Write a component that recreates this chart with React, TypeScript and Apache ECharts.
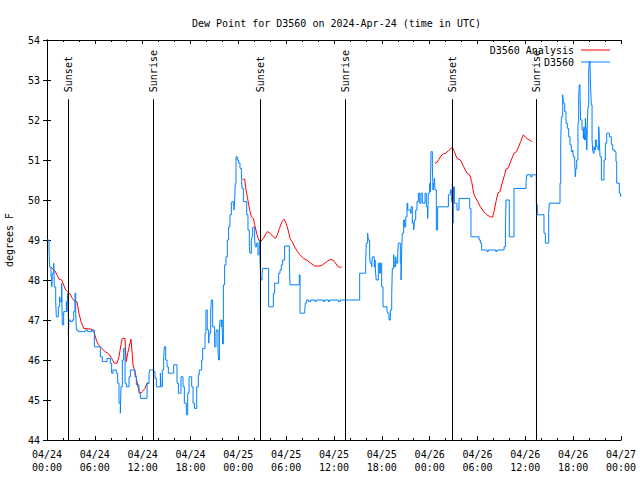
import React, { useEffect, useRef } from "react";
import * as echarts from "echarts";

// Hours since 2024-04-24 00:00 UTC
const xTickLabels = [
  "04/24\n00:00", "04/24\n06:00", "04/24\n12:00", "04/24\n18:00",
  "04/25\n00:00", "04/25\n06:00", "04/25\n12:00", "04/25\n18:00",
  "04/26\n00:00", "04/26\n06:00", "04/26\n12:00", "04/26\n18:00",
  "04/27\n00:00",
];

const sunTimes = [2.67, 13.34, 26.77, 37.43, 50.85, 61.38];
const sunLabels = ["Sunset", "Sunrise", "Sunset", "Sunrise", "Sunset", "Sunrise"];

const observed: [number, number][] = [
  [0.0, 49.0], [0.25, 48.75], [0.33, 48.32], [0.5, 48.08], [0.59, 47.83], [0.67, 48.17], [0.84, 48.42], [0.92, 47.83],
  [1.09, 47.46], [1.17, 47.08], [1.42, 47.33], [1.59, 47.58], [1.67, 47.46], [1.84, 47.92], [1.92, 46.88], [2.09, 47.21],
  [2.43, 47.46], [2.51, 47.21], [2.59, 47.67], [2.68, 46.63], [2.76, 47.0], [2.93, 46.96], [3.18, 47.0], [3.35, 47.21],
  [3.51, 47.67], [3.6, 47.21], [3.68, 46.75], [3.9, 46.71], [4.6, 46.71], [4.8, 46.75], [5.1, 46.71], [5.6, 46.75],
  [5.94, 46.33], [6.69, 46.08], [6.94, 45.96], [7.53, 46.04], [7.95, 45.92], [8.11, 45.67], [8.28, 45.75], [8.7, 45.67],
  [8.87, 45.42], [9.03, 44.92], [9.2, 44.67], [9.28, 45.33], [9.45, 46.0], [9.62, 46.29], [9.79, 45.42], [9.95, 45.33],
  [10.29, 45.58], [10.46, 45.75], [11.04, 45.58], [11.21, 45.38], [11.54, 45.17], [11.71, 45.04], [12.55, 45.42], [12.8, 45.67],
  [12.88, 45.75], [13.38, 45.71], [13.55, 45.54], [13.72, 45.33], [14.22, 45.67], [14.3, 45.33], [14.47, 45.75], [14.64, 46.08],
  [14.72, 46.33], [14.89, 46.0], [15.06, 45.83], [15.22, 45.67], [15.89, 45.88], [16.31, 45.42], [16.48, 45.17], [16.81, 45.58],
  [17.06, 45.33], [17.23, 44.92], [17.48, 44.63], [17.65, 45.17], [17.82, 45.58], [18.15, 45.33], [18.32, 44.92], [18.49, 44.79],
  [18.78, 45.33], [18.98, 45.63], [19.1, 45.75], [19.4, 46.0], [19.53, 46.29], [19.82, 46.67], [19.94, 47.25], [20.1, 46.75],
  [20.28, 46.42], [20.36, 46.67], [20.53, 47.17], [20.61, 47.5], [20.78, 46.83], [21.03, 46.33], [21.2, 46.67], [21.28, 46.75],
  [21.45, 46.25], [21.53, 46.0], [21.62, 46.75], [21.7, 47.0], [21.87, 46.83], [21.95, 47.0], [22.03, 46.4], [22.12, 47.88],
  [22.28, 48.38], [22.45, 48.58], [22.62, 49.0], [22.78, 49.33], [22.95, 49.63], [23.12, 49.92], [23.2, 49.96], [23.37, 49.88],
  [23.46, 49.75], [23.54, 50.0], [23.62, 50.42], [23.71, 51.08], [23.87, 51.0], [24.04, 50.92], [24.21, 50.79], [24.38, 50.67],
  [24.46, 50.29], [24.63, 49.96], [25.05, 49.63], [25.21, 49.25], [25.38, 48.83], [25.46, 48.67], [25.63, 49.0], [25.71, 49.08],
  [25.8, 49.32], [26.05, 49.0], [26.13, 48.83], [26.3, 48.92], [26.46, 48.63], [26.63, 49.0], [26.72, 48.5], [26.8, 48.0],
  [26.97, 48.13], [27.05, 48.29], [27.8, 47.33], [28.39, 47.67], [28.56, 47.92], [29.06, 48.17], [29.23, 48.25], [29.39, 48.38],
  [29.56, 48.5], [29.81, 48.85], [30.4, 48.42], [30.48, 47.88], [31.65, 48.13], [31.74, 47.17], [32.32, 47.21], [32.4, 47.42],
  [32.57, 47.5], [32.82, 47.46], [33.07, 47.5], [33.6, 47.46], [33.75, 47.5], [34.65, 47.46], [34.8, 47.5], [35.3, 47.46],
  [35.45, 47.5], [36.54, 47.46], [36.79, 47.5], [39.22, 48.17], [39.97, 48.42], [40.05, 48.92], [40.22, 49.17], [40.3, 49.0],
  [40.47, 48.58], [40.55, 48.42], [40.72, 48.33], [40.8, 48.58], [41.05, 48.33], [41.14, 48.5], [41.22, 48.17], [41.3, 48.0],
  [41.56, 48.42], [41.72, 48.17], [41.81, 48.42], [41.98, 47.83], [42.15, 47.33], [42.65, 47.25], [42.73, 47.17], [42.9, 47.0],
  [43.07, 47.25], [43.24, 47.67], [43.32, 48.29], [43.49, 48.63], [43.57, 48.33], [43.74, 48.58], [43.82, 48.42], [43.99, 48.67],
  [44.07, 48.92], [44.32, 48.42], [44.41, 48.0], [44.49, 48.75], [44.57, 49.17], [44.74, 49.5], [44.83, 49.33], [45.0, 49.58],
  [45.16, 49.92], [45.25, 49.75], [45.58, 49.67], [45.67, 49.83], [45.83, 49.42], [46.0, 49.25], [46.08, 49.5], [46.25, 49.75],
  [46.41, 49.96], [46.58, 50.17], [46.75, 49.92], [46.91, 50.17], [47.08, 49.92], [47.42, 50.17], [47.58, 49.83], [47.75, 49.54],
  [47.83, 50.17], [48.0, 50.42], [48.09, 50.21], [48.17, 51.21], [48.34, 50.83], [48.42, 50.25], [48.5, 50.42], [48.59, 50.54],
  [48.67, 50.25], [48.84, 49.25], [49.0, 49.83], [50.35, 50.13], [50.59, 50.25], [50.76, 49.96], [50.85, 50.42], [50.93, 49.42],
  [51.01, 50.33], [51.1, 49.92], [51.43, 49.75], [51.68, 50.04], [53.02, 49.79], [53.18, 49.08], [54.19, 49.0], [54.36, 48.92],
  [54.52, 48.75], [55.2, 48.71], [55.35, 48.75], [56.3, 48.71], [56.45, 48.75], [57.33, 48.83], [57.5, 49.29], [57.58, 50.0],
  [57.99, 49.08], [58.58, 50.29], [60.09, 50.46], [60.17, 50.63], [60.67, 50.58], [60.84, 50.63], [61.38, 49.88], [61.5, 49.63],
  [62.34, 49.17], [62.51, 48.92], [62.93, 49.67], [63.01, 49.92], [64.35, 50.42], [64.44, 51.42], [64.52, 52.08], [64.69, 52.63],
  [64.77, 52.42], [64.94, 52.21], [65.1, 51.92], [65.27, 51.79], [65.44, 51.58], [65.6, 51.38], [65.77, 51.21], [65.94, 51.25],
  [66.02, 51.08], [66.19, 50.96], [66.27, 50.58], [66.35, 50.79], [66.44, 51.0], [66.6, 51.92], [66.69, 52.58], [66.77, 52.88],
  [66.86, 52.58], [66.94, 52.0], [67.11, 51.75], [67.28, 51.54], [67.36, 51.83], [67.44, 51.5], [67.53, 52.04], [67.61, 51.75],
  [67.7, 51.25], [67.78, 51.92], [67.86, 52.33], [67.95, 53.25], [68.03, 53.46], [68.12, 53.25], [68.2, 52.75], [68.28, 52.38],
  [68.37, 51.5], [68.45, 51.25], [68.53, 51.17], [68.62, 51.33], [68.7, 51.25], [68.79, 51.5], [68.95, 51.33], [69.12, 51.25],
  [69.21, 51.83], [69.29, 51.42], [69.37, 51.08], [69.54, 50.5], [69.87, 51.0], [70.04, 51.42], [70.21, 51.67], [70.54, 51.58],
  [70.79, 51.38], [70.96, 51.25], [71.21, 51.21], [71.37, 50.96], [71.46, 50.42], [71.79, 50.17], [71.95, 50.08],
];

const analysisDay1: [number, number][] = [
  [0.5, 48.32], [1.0, 48.23], [1.51, 48.02], [1.84, 48.0], [2.01, 47.92], [2.34, 47.75], [2.59, 47.71], [2.84, 47.67],
  [3.18, 47.54], [3.51, 47.46], [3.76, 47.46], [4.01, 47.17], [4.27, 46.96], [4.6, 46.79], [5.6, 46.77], [5.94, 46.67],
  [6.19, 46.5], [6.44, 46.38], [6.86, 46.29], [7.28, 46.21], [7.61, 46.17], [7.86, 46.13], [8.11, 46.04], [8.45, 45.92],
  [8.78, 45.92], [9.03, 46.08], [9.28, 46.38], [9.45, 46.54], [9.78, 46.54], [9.87, 46.17], [9.95, 45.96], [10.12, 46.17],
  [10.37, 46.38], [10.54, 46.52], [10.7, 46.13], [10.79, 45.88], [11.04, 45.71], [11.21, 45.54], [11.37, 45.38], [11.54, 45.21],
  [11.79, 45.17], [11.96, 45.21], [12.29, 45.29], [12.55, 45.42], [12.8, 45.42],
];
const analysisDay2: [number, number][] = [
  [24.55, 50.52], [24.8, 50.52], [24.96, 50.25], [25.13, 50.08], [25.3, 49.88], [25.47, 49.71], [25.63, 49.58], [25.89, 49.54],
  [26.05, 49.38], [26.3, 49.17], [26.55, 49.0], [26.81, 48.96], [27.14, 49.04], [27.39, 49.13], [27.64, 49.21], [27.98, 49.17],
  [28.39, 49.08], [28.65, 49.04], [28.9, 49.13], [29.15, 49.29], [29.48, 49.46], [29.74, 49.52], [29.99, 49.42], [30.24, 49.25],
  [30.49, 49.04], [30.74, 48.96], [31.07, 48.83], [31.41, 48.71], [31.74, 48.63], [32.16, 48.54], [32.58, 48.5], [33.08, 48.42],
  [33.58, 48.35], [34.25, 48.35], [34.59, 48.38], [35.09, 48.46], [35.59, 48.52], [35.84, 48.5], [36.17, 48.43], [36.42, 48.35],
  [36.68, 48.32], [36.97, 48.32],
];
const analysisDay3: [number, number][] = [
  [48.67, 50.92], [48.92, 50.94], [49.17, 51.02], [49.42, 51.1], [49.67, 51.15], [50.01, 51.17], [50.34, 51.23], [50.84, 51.32],
  [51.09, 51.21], [51.43, 51.04], [51.85, 51.0], [52.27, 50.83], [52.68, 50.67], [53.02, 50.63], [53.27, 50.46], [53.52, 50.17],
  [53.69, 50.08], [54.02, 49.96], [54.36, 49.83], [54.78, 49.71], [54.98, 49.67], [55.32, 49.61], [55.65, 49.58], [55.9, 49.57],
  [56.07, 49.71], [56.32, 49.96], [56.57, 50.18], [56.82, 50.21], [57.15, 50.46], [57.4, 50.63], [57.57, 50.77], [57.82, 50.79],
  [58.07, 50.92], [58.32, 51.04], [58.58, 51.17], [58.91, 51.21], [59.16, 51.33], [59.41, 51.46], [59.75, 51.63], [60.0, 51.57],
  [60.33, 51.52], [60.67, 51.48], [60.84, 51.46],
];

const FONT = "DejaVu Sans Mono";
const SUN_LINE_TOP = 52.52;

export default function App() {
  const ref = useRef<HTMLDivElement>(null);
  useEffect(() => {
    if (!ref.current) return;
    const chart = echarts.init(ref.current, undefined, { renderer: "svg" });
    const analysis: any[] = [
      ...analysisDay1, [18, null],
      ...analysisDay2, [42, null],
      ...analysisDay3,
    ];
    const axisCommon = {
      axisLine: { show: true, lineStyle: { color: "#000", width: 1 } },
      splitLine: { show: false },
    };
    chart.setOption({
      animation: false,
      backgroundColor: "#fff",
      title: {
        text: "Dew Point for D3560 on 2024-Apr-24 (time in UTC)",
        left: 187,
        top: 13,
        textStyle: { fontFamily: FONT, fontSize: 10, fontWeight: "normal", color: "#000" },
      },
      legend: {
        data: ["D3560 Analysis", "D3560"],
        orient: "vertical",
        right: 30,
        top: 44,
        align: "right",
        icon: "rect",
        itemWidth: 29,
        itemHeight: 1,
        itemGap: 0,
        padding: 0,
        textStyle: { fontFamily: FONT, fontSize: 10, color: "#000", lineHeight: 12, padding: [0, 2, 0, 0] },
      },
      grid: { left: 47, right: 19, top: 40, bottom: 40, containLabel: false, outerBoundsMode: "none" },
      xAxis: [
        {
          type: "value", min: 0, max: 72, interval: 6, position: "bottom",
          ...axisCommon,
          axisTick: { show: true, inside: true, length: 4, lineStyle: { color: "#000" } },
          minorTick: { show: true, splitNumber: 3, length: 2, lineStyle: { color: "#000" } },
          axisLabel: {
            fontFamily: FONT, fontSize: 10, color: "#000", margin: 8, lineHeight: 13,
            formatter: (v: number) => xTickLabels[Math.round(v / 6)] ?? "",
          },
        },
        {
          type: "value", min: 0, max: 72, interval: 6, position: "top",
          ...axisCommon,
          axisTick: { show: true, inside: true, length: 4, lineStyle: { color: "#000" } },
          minorTick: { show: true, splitNumber: 3, length: 2, lineStyle: { color: "#000" } },
          axisLabel: { show: false },
        },
      ],
      yAxis: [
        {
          type: "value", min: 44, max: 54, interval: 1, position: "left",
          ...axisCommon,
          name: "degrees F", nameLocation: "middle", nameRotate: 90, nameGap: 33,
          nameTextStyle: { fontFamily: FONT, fontSize: 10, color: "#000" },
          axisTick: { show: true, inside: true, length: 4, lineStyle: { color: "#000" } },
          axisLabel: { fontFamily: FONT, fontSize: 10, color: "#000", margin: 7 },
        },
        {
          type: "value", min: 44, max: 54, interval: 1, position: "right",
          ...axisCommon,
          axisTick: { show: true, inside: true, length: 4, lineStyle: { color: "#000" } },
          axisLabel: { show: false },
        },
      ],
      series: [
        {
          name: "D3560 Analysis",
          type: "line",
          data: analysis,
          showSymbol: false,
          connectNulls: false,
          lineStyle: { color: "#ff0000", width: 1 },
          itemStyle: { color: "#ff0000" },
          z: 3,
        },
        {
          name: "D3560",
          type: "line",
          data: observed,
          step: "end",
          showSymbol: false,
          lineStyle: { color: "#0080ff", width: 1 },
          itemStyle: { color: "#0080ff" },
          z: 4,
        },
        {
          name: "sun",
          type: "custom",
          data: sunTimes.map((t, i) => [t, i]),
          z: 5,
          silent: true,
          renderItem: (params: any, api: any) => {
            const t = api.value(0);
            const idx = api.value(1);
            const p0 = api.coord([t, 44]);
            const p1 = api.coord([t, SUN_LINE_TOP]);
            const x = Math.round(p0[0]) + 0.5;
            return {
              type: "group",
              children: [
                {
                  type: "line",
                  shape: { x1: x, y1: p0[1], x2: x, y2: p1[1] },
                  style: { stroke: "#000", lineWidth: 1 },
                },
                {
                  type: "text",
                  x: x,
                  y: p1[1] - 7,
                  rotation: Math.PI / 2,
                  style: {
                    text: sunLabels[idx],
                    fontFamily: FONT,
                    fontSize: 10,
                    fill: "#000",
                    align: "left",
                    verticalAlign: "middle",
                  },
                },
              ],
            };
          },
        },
      ],
    });
    return () => chart.dispose();
  }, []);
  return (
    <div
      ref={ref}
      style={{ position: "fixed", left: 0, top: 0, width: 640, height: 480, background: "#fff" }}
    />
  );
}
